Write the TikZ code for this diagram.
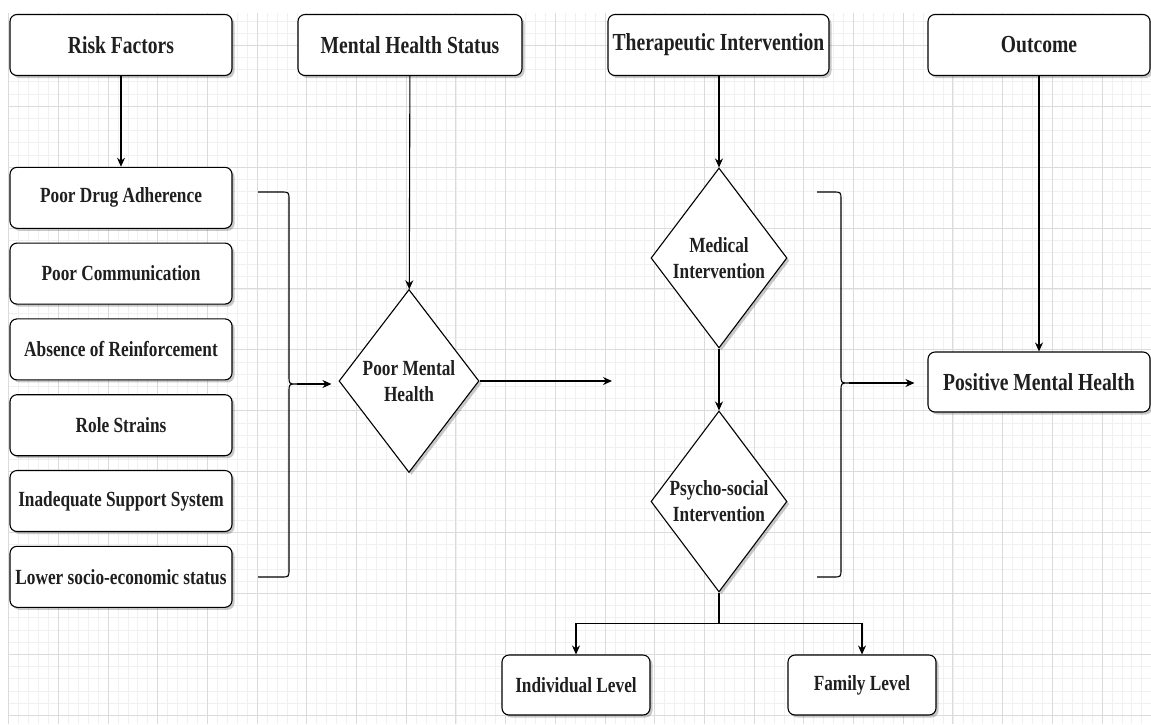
\documentclass[tikz,border=0pt]{standalone}
\usepackage{fontspec}
\setmainfont{Liberation Serif}[FakeStretch=0.8]
\usetikzlibrary{arrows.meta,shapes.geometric,shadows}

\newcommand{\curlybr}[5]{% left end, vertical x, top y, tip y, bottom y
  \draw[line width=1.1pt] (#1,#3) -- ({#2-8},#3) .. controls (#2,#3) .. (#2,{#3+8})
    -- (#2,{#4-8}) .. controls (#2,#4) .. ({#2+8},#4)
    .. controls (#2,#4) .. (#2,{#4+8}) -- (#2,{#5-8})
    .. controls (#2,#5) .. ({#2-8},#5) -- (#1,#5);}

\tikzset{
  gridfine/.style={line width=0.5pt, black!6},
  gridbold/.style={line width=0.7pt, black!14},
  shade/.style={drop shadow={shadow xshift=2.5pt, shadow yshift=-2.5pt, opacity=0.3, fill=black!70}},
  box/.style={draw, line width=1.1pt, rounded corners=7pt, fill=white, shade, inner sep=0pt,
    align=center, text=black!88, font=\bfseries\fontsize{21.6}{26}\selectfont},
  head/.style={box, minimum height=61pt, font=\bfseries\fontsize{24.5}{29}\selectfont},
  factor/.style={box, minimum width=222pt, minimum height=61pt},
  decision/.style={draw, diamond, line width=1.1pt, fill=white, shade, inner sep=0pt},
  dtext/.style={align=center, text=black!88, font=\bfseries\fontsize{21.6}{26}\selectfont},
  link/.style={line width=1.1pt, -{Stealth[length=9pt, width=8pt]}},
}

\begin{document}
\begin{tikzpicture}[x=1pt, y=-1pt]
  \useasboundingbox (0,0) rectangle (1151,724);
  \fill[white] (0,0) rectangle (1151,724);
  % background grid
  \begin{scope}
    \clip (8,13) rectangle (1151,724);
    \foreach \k in {0,...,115}
      \draw[gridfine] ({8.5+9.94*\k},13) -- ({8.5+9.94*\k},724);
    \foreach \k in {-3,...,56}
      \draw[gridfine] (8,{45.2+12.18*\k}) -- (1151,{45.2+12.18*\k});
    \foreach \k in {0,...,23}
      \draw[gridbold] ({8.5+49.7*\k},13) -- ({8.5+49.7*\k},724);
    \foreach \k in {0,...,11}
      \draw[gridbold] (8,{45.2+60.9*\k}) -- (1151,{45.2+60.9*\k});
  \end{scope}

  % column heads
  \node[head, minimum width=222pt] (risk) at (121,45) {Risk Factors};
  \node[head, minimum width=224pt] (status) at (410,45) {Mental Health Status};
  \node[head, minimum width=221pt] (therapy) at (718.5,45) {Therapeutic Intervention};
  \node[head, minimum width=222pt] (outcome) at (1039,45) {Outcome};

  % risk factors
  \foreach \t [count=\i] in {Poor Drug Adherence, Poor Communication, Absence of Reinforcement,
      Role Strains, Inadequate Support System, Lower socio-economic status}
    \node[factor] (f\i) at (121,{122+75.8*\i}) {\t};

  % decisions
  \node[decision, minimum width=140pt, minimum height=183pt,
    label={[dtext]center:Poor Mental\\Health}] (poor) at (409,381) {};
  \node[decision, minimum width=136pt, minimum height=180pt,
    label={[dtext]center:Medical\\Intervention}] (medical) at (719,258) {};
  \node[decision, minimum width=136pt, minimum height=181pt,
    label={[dtext]center:Psycho-social\\Intervention}] (psycho) at (719,501.5) {};

  % outcome and levels
  \node[head, minimum width=222pt, minimum height=60pt] (positive) at (1039,382) {Positive Mental Health};
  \node[box, minimum width=148pt, minimum height=60pt] (indiv) at (576,685) {Individual Level};
  \node[box, minimum width=148pt, minimum height=60pt] (family) at (862,685) {Family Level};

  % braces
  \curlybr{258}{289}{192}{384}{577}
  \coordinate (lefttip) at (297,384);
  \curlybr{817}{841}{192}{383}{577}
  \coordinate (righttip) at (849,383);
  \coordinate (gap) at (612,381);

  % connectors
  \draw[link] (risk) -- (f1);
  \draw[link] (status) -- (poor);
  \draw[link] (therapy.south -| medical) -- (medical);
  \draw[link] (outcome) -- (positive);
  \draw[link] (medical) -- (psycho);
  \draw[link, shorten >=7pt] (lefttip) -- (lefttip -| poor.west);
  \draw[link] (poor.east) -- (gap);
  \draw[link, shorten >=13pt] (righttip) -- (righttip -| positive.west);
  \draw[line width=1.1pt] (psycho.south) -- ++(0,31) coordinate (fork);
  \draw[link] (fork) -| (indiv.north);
  \draw[link] (fork) -| (family.north);
\end{tikzpicture}
\end{document}
